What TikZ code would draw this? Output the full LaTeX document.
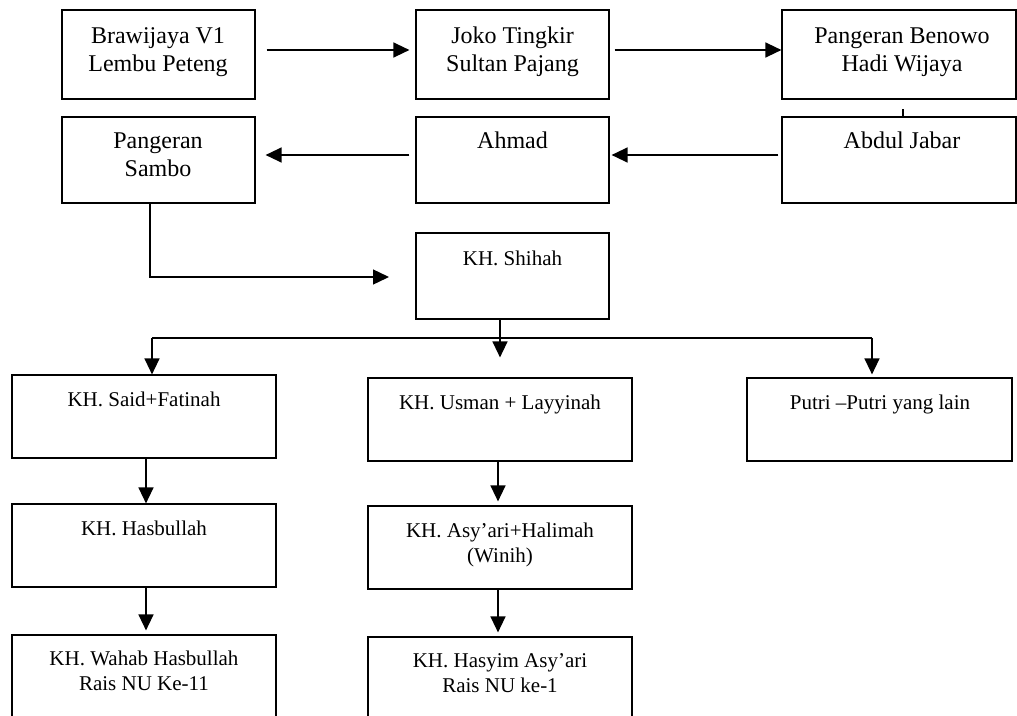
\documentclass[tikz,border=0pt]{standalone}
\usepackage{fontspec}
\setmainfont{Liberation Serif}
\usetikzlibrary{arrows.meta}
\newcommand{\toptext}[1]{\begin{tabular}[t]{@{}c@{}}#1\end{tabular}}
\tikzset{
  box/.style={draw, line width=1.2pt, rectangle, inner sep=0pt},
  bigtxt/.style={font=\fontsize{24}{28}\selectfont, anchor=base, inner sep=0pt},
  smalltxt/.style={font=\fontsize{21}{25}\selectfont, anchor=base, inner sep=0pt},
  conn/.style={line width=1.4pt},
  arr/.style={conn, -{Triangle[length=16pt,width=15pt]}}
}
\begin{document}
\begin{tikzpicture}[x=1pt,y=-1pt]
\useasboundingbox (0,0) rectangle (1017,715);
\clip (0,0) rectangle (1017,715);
% boxes
\node[box, minimum width=193pt, minimum height=89pt] (b1) at (158.5,54.5) {};
\node[box, minimum width=193pt, minimum height=89pt] (b2) at (512.5,54.5) {};
\node[box, minimum width=234pt, minimum height=89pt] (b3) at (899,54.5) {};
\node[box, minimum width=193pt, minimum height=86pt] (b4) at (158.5,160) {};
\node[box, minimum width=193pt, minimum height=86pt] (b5) at (512.5,160) {};
\node[box, minimum width=234pt, minimum height=86pt] (b6) at (899,160) {};
\node[box, minimum width=193pt, minimum height=86pt] (b7) at (512.5,276) {};
\node[box, minimum width=264pt, minimum height=83pt] (b8) at (144,416.5) {};
\node[box, minimum width=264pt, minimum height=83pt] (b9) at (500,419.5) {};
\node[box, minimum width=265pt, minimum height=83pt] (b10) at (879.5,419.5) {};
\node[box, minimum width=264pt, minimum height=83pt] (b11) at (144,545.5) {};
\node[box, minimum width=264pt, minimum height=83pt] (b12) at (500,547.5) {};
\node[box, minimum width=264pt, minimum height=83pt] (b13) at (144,676.5) {};
\node[box, minimum width=264pt, minimum height=83pt] (b14) at (500,678.5) {};
% texts
\node[bigtxt] (t1) at (158,43) {\toptext{Brawijaya V1\\Lembu Peteng}};
\node[bigtxt] (t2) at (512.5,43) {\toptext{Joko Tingkir\\Sultan Pajang}};
\node[bigtxt] (t3) at (902,43) {\toptext{Pangeran Benowo\\Hadi Wijaya}};
\node[bigtxt] (t4) at (158,148) {\toptext{Pangeran\\Sambo}};
\node[bigtxt] (t5) at (512.5,148) {Ahmad};
\node[bigtxt] (t6) at (902,148) {Abdul Jabar};
\node[smalltxt] (t7) at (512.5,265) {KH. Shihah};
\node[smalltxt] (t8) at (144,406) {KH. Said+Fatinah};
\node[smalltxt] (t9) at (500,409) {KH. Usman + Layyinah};
\node[smalltxt] (t10) at (880,409) {Putri --Putri yang lain};
\node[smalltxt] (t11) at (144,535) {KH. Hasbullah};
\node[smalltxt] (t12) at (500,537) {\toptext{KH. Asy'ari+Halimah\\(Winih)}};
\node[smalltxt] (t13) at (144,665) {\toptext{KH. Wahab Hasbullah\\Rais NU Ke-11}};
\node[smalltxt] (t14) at (500,667) {\toptext{KH. Hasyim Asy'ari\\Rais NU ke-1}};
% connectors
\draw[arr] ([xshift=11pt,yshift=4.5pt]b1.east) -- ([xshift=-6pt,yshift=4.5pt]b2.west);
\draw[arr] ([xshift=5pt,yshift=4.5pt]b2.east) -- ([yshift=4.5pt]b3.west);
\draw[line width=1.8pt] ([xshift=4pt]b6.north) -- ++(0,-7);
\draw[arr] ([xshift=-3pt,yshift=5pt]b6.west) -- ([xshift=2pt,yshift=5pt]b5.east);
\draw[arr] ([xshift=-6pt,yshift=5pt]b5.west) -- ([xshift=10pt,yshift=5pt]b4.east);
\coordinate (sh) at (389,277);
\draw[arr] ([xshift=-8.5pt]b4.south) |- (sh);
\draw[arr] (b7.south -| b9.north) -- ([yshift=20pt]b9.north);
\coordinate (busL) at (152,338);
\coordinate (busR) at (872,338);
\draw[conn] (busL) -- (busR);
\draw[arr] (busL) -- (busL |- b8.north);
\draw[arr] (busR) -- ([yshift=3pt]busR |- b10.north);
\draw[arr] ([xshift=2pt]b8.south) -- ([xshift=2pt]b11.north);
\draw[arr] ([xshift=2pt]b11.south) -- ([xshift=2pt,yshift=4pt]b13.north);
\draw[arr] ([xshift=-2pt]b9.south) -- ([xshift=-2pt,yshift=4pt]b12.north);
\draw[arr] ([xshift=-2pt]b12.south) -- ([xshift=-2pt,yshift=4pt]b14.north);
\end{tikzpicture}
\end{document}
